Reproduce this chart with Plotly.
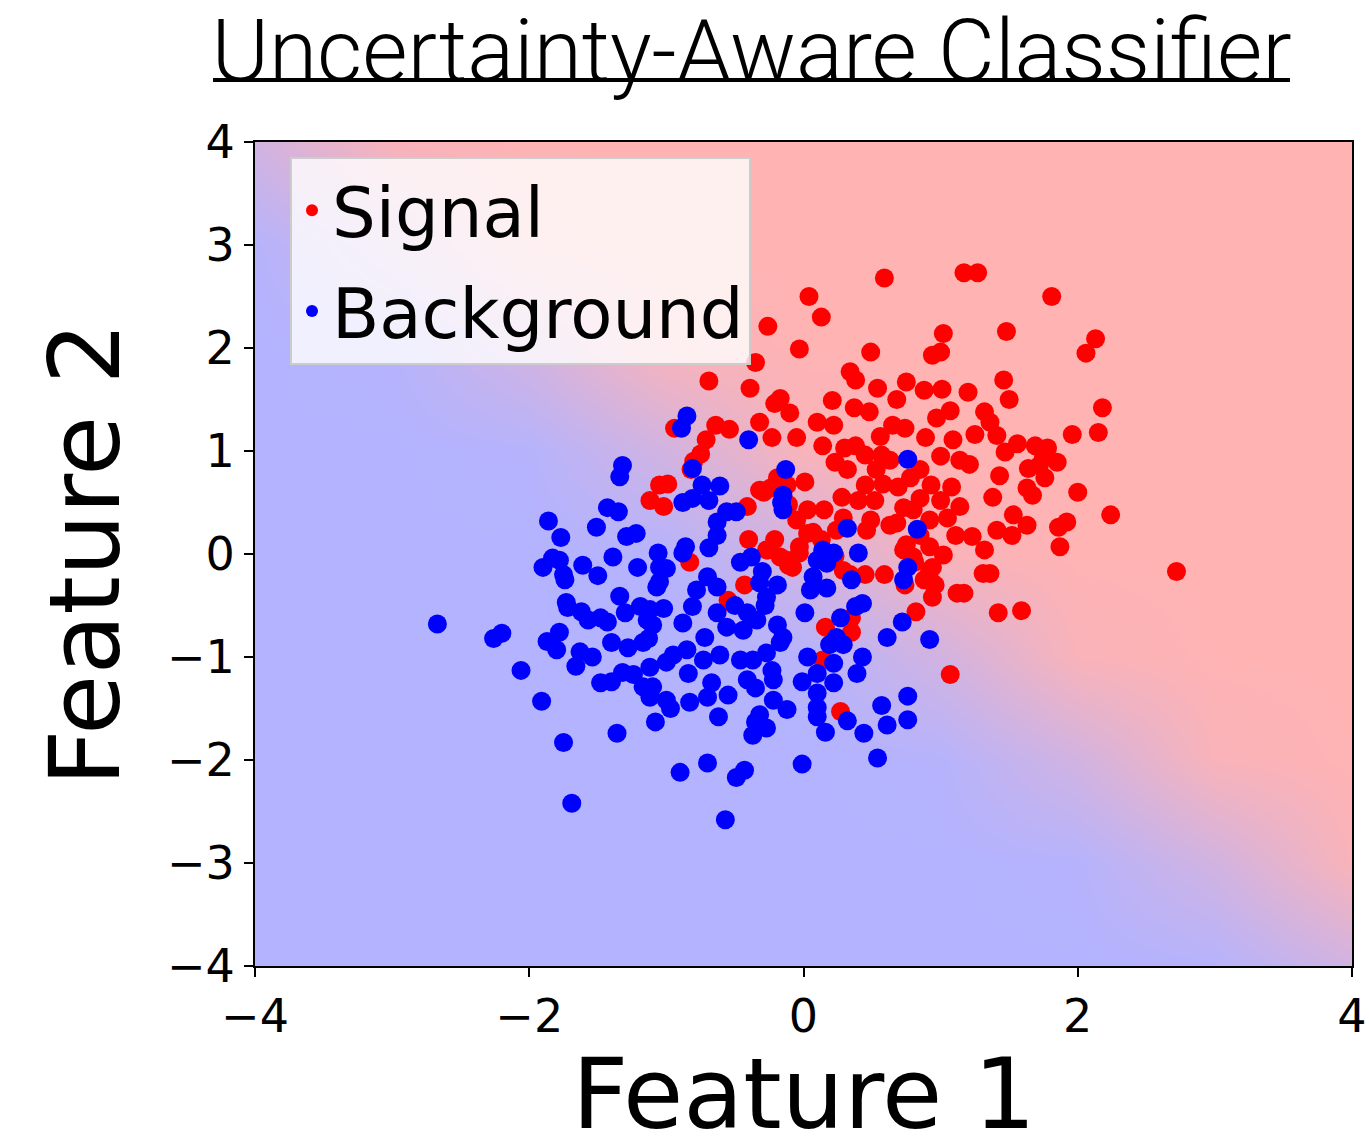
import plotly.graph_objects as go

# ---------------- data ----------------
signal_points = [
    (0.59, 2.68), (1.17, 2.73), (1.27, 2.73), (0.04, 2.50), (1.81, 2.50), (0.13, 2.30), (-0.26, 2.21),
    (1.48, 2.16), (1.02, 2.14), (2.13, 2.09), (2.06, 1.95), (-0.03, 1.99), (0.49, 1.96), (0.94, 1.93),
    (1.00, 1.96), (-0.35, 1.86), (0.34, 1.77), (0.38, 1.69), (-0.69, 1.68), (-0.39, 1.61), (1.46, 1.69),
    (1.20, 1.57), (0.75, 1.67), (0.54, 1.61), (0.88, 1.59), (1.01, 1.60), (-0.17, 1.51), (-0.21, 1.46),
    (1.50, 1.50), (2.18, 1.42), (0.21, 1.49), (0.68, 1.50), (0.37, 1.42), (-0.10, 1.37), (0.48, 1.38),
    (0.97, 1.32), (1.07, 1.39), (1.32, 1.38), (1.36, 1.28), (0.10, 1.28), (-0.32, 1.28), (0.22, 1.25),
    (0.65, 1.25), (0.74, 1.22), (-0.94, 1.22), (-0.64, 1.25), (-0.54, 1.21), (2.15, 1.18), (-0.23, 1.13),
    (-0.05, 1.13), (0.56, 1.14), (0.89, 1.13), (1.09, 1.11), (1.25, 1.16), (1.41, 1.15), (1.96, 1.16),
    (-0.71, 1.11), (0.14, 1.05), (0.38, 1.05), (0.30, 1.03), (1.56, 1.07), (1.69, 1.05), (1.78, 1.03),
    (0.45, 0.96), (0.57, 0.96), (0.63, 0.91), (1.00, 0.95), (1.14, 0.91), (1.47, 0.99), (1.75, 0.94),
    (-0.75, 0.97), (-0.80, 0.90), (-0.82, 0.82), (1.64, 0.83), (1.85, 0.89), (1.72, 0.86), (1.21, 0.87),
    (0.23, 0.89), (0.32, 0.82), (0.53, 0.82), (0.85, 0.82), (1.43, 0.76), (1.76, 0.74), (0.78, 0.74),
    (-0.19, 0.74), (-1.05, 0.67), (-0.99, 0.68), (-0.24, 0.64), (-0.12, 0.67), (0.01, 0.70), (0.45, 0.67),
    (0.58, 0.68), (0.69, 0.65), (0.93, 0.67), (1.08, 0.65), (1.63, 0.64), (2.00, 0.60), (1.67, 0.57),
    (-0.29, 0.60), (1.38, 0.55), (-1.12, 0.52), (-1.02, 0.46), (0.28, 0.55), (0.40, 0.52), (0.52, 0.52),
    (0.85, 0.54), (1.00, 0.52), (-0.11, 0.48), (0.03, 0.43), (0.15, 0.43), (0.73, 0.45), (1.14, 0.46),
    (1.53, 0.38), (2.24, 0.38), (-0.05, 0.33), (0.29, 0.35), (0.49, 0.33), (0.63, 0.28), (0.92, 0.33),
    (1.05, 0.35), (1.41, 0.23), (1.63, 0.28), (1.86, 0.26), (1.92, 0.31), (0.07, 0.21), (0.24, 0.23),
    (0.85, 0.18), (1.11, 0.18), (1.23, 0.17), (1.52, 0.18), (-0.21, 0.14), (0.13, 0.14), (-0.40, 0.14),
    (1.87, 0.07), (0.75, 0.09), (0.92, 0.07), (1.32, 0.04), (-0.03, 0.01), (0.23, -0.02), (-0.26, 0.04),
    (-0.17, -0.03), (1.02, -0.01), (0.81, -0.08), (-0.83, -0.08), (-0.11, -0.11), (0.92, -0.16),
    (0.34, -0.20), (0.45, -0.20), (0.59, -0.20), (1.31, -0.19), (1.36, -0.19), (2.72, -0.17),
    (0.88, -0.25), (0.96, -0.30), (0.74, -0.30), (-0.43, -0.30), (0.94, -0.42), (1.17, -0.38),
    (1.42, -0.57), (1.59, -0.55), (0.82, -0.56), (-0.54, -0.47), (0.16, -0.71), (0.35, -0.76),
    (1.07, -1.17), (0.14, -1.03), (0.27, -1.53), (0.35, -0.62), (-0.32, 0.62), (-0.41, 0.46),
    (-0.27, 0.04), (-0.12, -0.06), (-0.08, -0.13), (-0.55, -0.45), (0.03, 0.20), (-0.03, 0.07),
    (0.29, -0.16), (0.68, 0.30), (0.46, 0.23), (0.80, 0.43), (0.94, -0.13), (0.94, -0.28),
    (1.12, -0.38), (0.73, 0.04), (0.80, -0.03),
]

background_points = [
    (-2.67, -0.68), (-2.26, -0.82), (-2.20, -0.77), (-2.06, -1.13), (-1.91, -1.43), (-1.75, -1.83),
    (-1.69, -2.42), (-1.86, 0.32), (-1.77, 0.16), (-1.90, -0.13), (-1.83, -0.04), (-1.78, -0.06),
    (-1.75, -0.20), (-1.74, -0.25), (-1.73, -0.47), (-1.72, -0.52), (-1.87, -0.85), (-1.78, -0.76),
    (-1.80, -0.93), (-1.66, -1.09), (-1.63, -0.95), (-1.54, -1.00), (-1.62, -0.56), (-1.61, -0.11),
    (-1.50, -0.21), (-1.51, 0.26), (-1.43, 0.45), (-1.57, -0.64), (-1.48, -0.62), (-1.43, -0.66),
    (-1.48, -1.25), (-1.40, -1.24), (-1.40, -0.86), (-1.39, -0.03), (-1.36, -1.74), (-1.35, 0.41),
    (-1.34, -0.41), (-1.34, 0.75), (-1.32, 0.86), (-1.32, -1.15), (-1.30, -0.57), (-1.29, 0.17),
    (-1.28, -0.91), (-1.24, -1.17), (-1.22, 0.20), (-1.21, -0.13), (-1.19, -0.51), (-1.17, -0.86),
    (-1.17, -1.29), (-1.14, -0.64), (-1.13, -0.82), (-1.12, -0.54), (-1.12, -1.10), (-1.12, -1.39),
    (-1.10, -0.69), (-1.10, -1.29), (-1.08, -1.63), (-1.07, -0.32), (-1.06, 0.01), (-1.05, -0.13),
    (-1.05, -0.27), (-1.02, -0.53), (-1.00, -0.14), (-1.00, -1.05), (-1.00, -1.42), (-0.97, -1.50),
    (-0.95, -0.98), (-0.90, -2.12), (-0.89, 1.22), (-0.85, 1.34), (-0.88, 0.50), (-0.88, 0.01),
    (-0.86, 0.07), (-0.88, -0.67), (-0.85, -0.93), (-0.84, -1.16), (-0.83, -1.44), (-0.81, 0.83),
    (-0.81, 0.54), (-0.81, -0.51), (-0.78, -0.35), (-0.74, 0.67), (-0.73, -1.03), (-0.72, -0.81),
    (-0.70, -0.22), (-0.70, -1.39), (-0.70, -2.03), (-0.69, 0.52), (-0.69, 0.06), (-0.67, -1.25),
    (-0.63, 0.31), (-0.63, 0.18), (-0.63, -0.32), (-0.63, -0.57), (-0.62, -1.58), (-0.61, 0.66),
    (-0.61, -0.98), (-0.57, -2.58), (-0.56, 0.41), (-0.56, -0.71), (-0.55, -1.37), (-0.50, -0.50),
    (-0.49, 0.41), (-0.49, -2.17), (-0.46, -0.08), (-0.46, -1.03), (-0.44, -0.74), (-0.43, -2.10),
    (-0.41, -0.57), (-0.41, -1.22), (-0.40, 1.11), (-0.38, -0.03), (-0.37, -1.03), (-0.37, -1.76),
    (-0.35, -1.30), (-0.35, -1.63), (-0.34, -0.64), (-0.32, -0.28), (-0.32, -1.56), (-0.30, -0.17),
    (-0.28, -0.50), (-0.27, -0.42), (-0.27, -0.96), (-0.27, -1.69), (-0.23, -1.13), (-0.22, -1.22),
    (-0.22, -1.42), (-0.19, -0.30), (-0.19, -0.69), (-0.17, -0.86), (-0.16, 0.50), (-0.15, 0.57),
    (-0.15, 0.43), (-0.15, -0.81), (-0.13, 0.82), (-0.12, -1.51), (-0.01, -1.24), (-0.01, -2.04),
    (0.01, -0.57), (0.03, -1.00), (0.05, -0.35), (0.07, -0.22), (0.10, -0.06), (0.10, -1.16),
    (0.10, -1.35), (0.10, -1.49), (0.10, -1.58), (0.14, 0.04), (0.16, -1.73), (0.17, -0.09),
    (0.17, -0.33), (0.19, -0.88), (0.22, 0.01), (0.22, -1.06), (0.22, -1.25), (0.24, -0.81),
    (0.27, -0.62), (0.29, -0.88), (0.32, 0.25), (0.32, -1.62), (0.35, -0.25), (0.38, -0.51),
    (0.39, -1.16), (0.40, 0.01), (0.43, -0.48), (0.43, -1.00), (0.44, -1.74), (0.54, -1.98),
    (0.57, -1.47), (0.61, -0.81), (0.61, -1.66), (0.72, -0.66), (0.73, -0.25), (0.76, 0.92),
    (0.76, -0.13), (0.76, -1.38), (0.76, -1.61), (0.83, 0.24), (0.92, -0.83),
]

signal_f1 = [p[0] for p in signal_points]
signal_f2 = [p[1] for p in signal_points]
background_f1 = [p[0] for p in background_points]
background_f2 = [p[1] for p in background_points]

# classifier probability (of Signal) on a coarse grid, read from background shading
grid_f1 = [-4, -3, -2, -1, 0, 1, 2, 3, 4]
grid_f2 = [-4, -3, -2, -1, 0, 1, 2, 3, 4]
prob_signal = [
    [0.0, 0.0, 0.0, 0.0, 0.0, 0.0, 0.002, 0.04, 0.40],
    [0.0, 0.0, 0.0, 0.0, 0.0, 0.002, 0.04, 0.40, 0.92],
    [0.0, 0.0, 0.0, 0.0, 0.002, 0.04, 0.40, 0.92, 0.995],
    [0.0, 0.0, 0.0, 0.002, 0.04, 0.40, 0.92, 0.995, 1.0],
    [0.0, 0.0, 0.002, 0.04, 0.40, 0.92, 0.995, 1.0, 1.0],
    [0.0, 0.002, 0.04, 0.40, 0.92, 0.995, 1.0, 1.0, 1.0],
    [0.002, 0.04, 0.40, 0.92, 0.995, 1.0, 1.0, 1.0, 1.0],
    [0.04, 0.40, 0.92, 0.995, 1.0, 1.0, 1.0, 1.0, 1.0],
    [0.40, 0.92, 0.995, 1.0, 1.0, 1.0, 1.0, 1.0, 1.0],
]

x_ticks = [-4, -2, 0, 2, 4]
y_ticks = [-4, -3, -2, -1, 0, 1, 2, 3, 4]

# ---------------- figure ----------------
fig = go.Figure()

fig.add_trace(go.Heatmap(
    x=grid_f1, y=grid_f2, z=prob_signal,
    zmin=0, zmax=1, zsmooth="best",
    colorscale=[[0, "#b3b3ff"], [1, "#ffb3b3"]],
    showscale=False, hoverinfo="skip",
))

fig.add_trace(go.Scatter(
    x=signal_f1, y=signal_f2, mode="markers", name="Signal",
    legendgroup="s",
    marker=dict(color="#ff0000", size=19, line=dict(width=0)),
))
fig.add_trace(go.Scatter(
    x=background_f1, y=background_f2, mode="markers", name="Background",
    legendgroup="b",
    marker=dict(color="#0000ff", size=19, line=dict(width=0)),
))

axis_common = dict(
    range=[-4, 4], showgrid=False, zeroline=False, automargin=False,
    showline=True, mirror=True, linecolor="black", linewidth=2,
    ticks="outside", ticklen=9, tickwidth=2, tickcolor="black",
    tickfont=dict(family="DejaVu Sans", size=46, color="black"),
)

fig.update_layout(
    width=1369, height=1143,
    margin=dict(l=255, r=17, t=142, b=177),
    paper_bgcolor="white", plot_bgcolor="white",
    title=dict(
        text="Uncertainty-Aware Classifier",
        font=dict(family="Roboto", size=87.5, color="black", weight=300),
        x=751.5 / 1369, xref="container", xanchor="center",
        y=1 - 50 / 1143, yref="container", yanchor="middle",
    ),
    xaxis=dict(axis_common, tickvals=x_ticks),
    yaxis=dict(axis_common, tickvals=y_ticks,
               title=dict(text="Feature 2", standoff=15,
                          font=dict(family="DejaVu Sans", size=98, color="black"))),
    legend=dict(
        x=(290 - 255) / 1097, y=(966 - 157) / 824, xanchor="left", yanchor="top",
        bgcolor="rgba(255,255,255,0.8)", bordercolor="#cccccc", borderwidth=2,
        font=dict(family="DejaVu Sans", size=69, color="black"),
        tracegroupgap=8, itemsizing="constant",
    ),
    annotations=[dict(
        text="Feature 1", xref="paper", yref="paper", x=0.5, y=0,
        xanchor="center", yanchor="middle", yshift=-128, showarrow=False,
        font=dict(family="DejaVu Sans", size=98, color="black"),
    )],
    shapes=[dict(
        type="line", xref="paper", yref="paper",
        x0=(213 - 255) / 1097, x1=(1290 - 255) / 1097,
        y0=(966 - 80) / 824, y1=(966 - 80) / 824,
        line=dict(color="black", width=4),
    )],
)

fig.write_html("out.html")
